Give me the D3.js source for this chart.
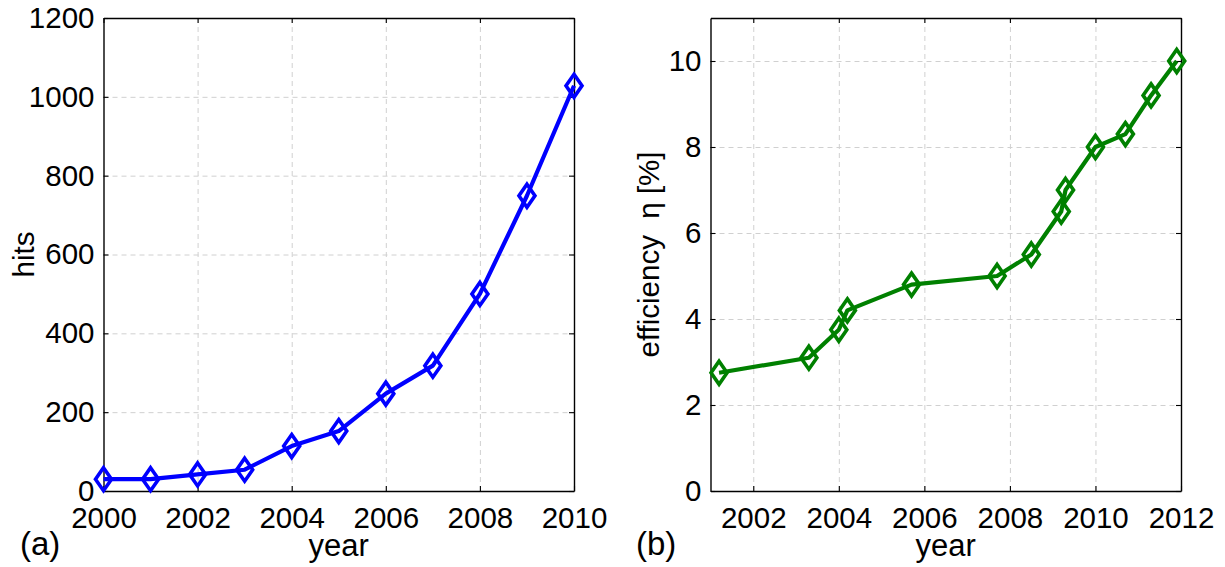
<!DOCTYPE html>
<html>
<head>
<meta charset="utf-8">
<script src="https://cdn.jsdelivr.net/npm/d3@7"></script>
<style>
  body { margin: 0; background: #fff; }
  svg text { font-family: "Liberation Sans", Arial, Helvetica, sans-serif; fill: #000; }
  .grid line { stroke: #d0d0d0; stroke-width: 1; stroke-dasharray: 5,4; }
  .grid .domain { display: none; }
  .axis .domain { stroke: #000; stroke-width: 1.4; }
  .axis line { stroke: #000; stroke-width: 1.1; }
</style>
</head>
<body>
<div class="graphic"></div>
<script>
// panel (a): hits per year
var hitsYears = [2000, 2001, 2002, 2003, 2004, 2005, 2006, 2007, 2008, 2009, 2010];
var hitsValues = [30, 30, 42, 54, 114, 152, 247, 318, 500, 749, 1028];
var hitsXTicks = [2000, 2002, 2004, 2006, 2008, 2010];
var hitsYTicks = [0, 200, 400, 600, 800, 1000, 1200];

// panel (b): efficiency
var effYears = [2001.2, 2003.3, 2004.0, 2004.2, 2005.7, 2007.7, 2008.5, 2009.2, 2009.3, 2010.0, 2010.7, 2011.3, 2011.9];
var effValues = [2.75, 3.1, 3.75, 4.2, 4.8, 5.0, 5.5, 6.5, 7.0, 8.0, 8.3, 9.2, 10.0];
var effXTicks = [2002, 2004, 2006, 2008, 2010, 2012];
var effYTicks = [0, 2, 4, 6, 8, 10];

var width = 1225, height = 567;

var svg = d3.select(".graphic").append("svg")
  .attr("width", width)
  .attr("height", height);

function diamond(cx, cy) {
  var hw = 8, hh = 11.5;
  return "M" + cx + "," + (cy - hh) + "L" + (cx + hw) + "," + cy +
    "L" + cx + "," + (cy + hh) + "L" + (cx - hw) + "," + cy + "Z";
}

function drawPanel(opts) {
  var w = opts.right - opts.left, h = opts.bottom - opts.top;
  var x = d3.scaleLinear().domain(opts.xDomain).range([0, w]);
  var y = d3.scaleLinear().domain(opts.yDomain).range([h, 0]);

  var g = svg.append("g").attr("transform", "translate(" + opts.left + "," + opts.top + ")");

  // dashed grid
  var gx = opts.xTicks.filter(function(d) { return d > opts.xDomain[0] && d < opts.xDomain[1]; });
  var gy = opts.yTicks.filter(function(d) { return d > opts.yDomain[0] && d < opts.yDomain[1]; });
  g.append("g").attr("class", "grid")
    .attr("transform", "translate(0," + h + ")")
    .call(d3.axisBottom(x).tickValues(gx).tickSize(-h).tickFormat(""));
  g.append("g").attr("class", "grid")
    .call(d3.axisLeft(y).tickValues(gy).tickSize(-w).tickFormat(""));

  // box with inward ticks
  var bottomAxis = g.append("g").attr("class", "axis")
    .attr("transform", "translate(0," + h + ")")
    .call(d3.axisBottom(x).tickValues(opts.xTicks).tickSize(-5).tickSizeOuter(0).tickPadding(16).tickFormat(d3.format("d")));
  bottomAxis.selectAll("text").attr("font-size", 29.5);

  var leftAxis = g.append("g").attr("class", "axis")
    .call(d3.axisLeft(y).tickValues(opts.yTicks).tickSize(-5).tickSizeOuter(0).tickPadding(9).tickFormat(d3.format("d")));
  leftAxis.selectAll("text").attr("font-size", 29.5);

  g.append("g").attr("class", "axis")
    .call(d3.axisTop(x).tickValues(opts.xTicks).tickSize(-5).tickSizeOuter(0).tickFormat(""));
  g.append("g").attr("class", "axis")
    .attr("transform", "translate(" + w + ",0)")
    .call(d3.axisRight(y).tickValues(opts.yTicks).tickSize(-5).tickSizeOuter(0).tickFormat(""));

  // data
  var pts = opts.xs.map(function(d, i) { return [d, opts.ys[i]]; });
  var line = d3.line().x(function(d) { return x(d[0]); }).y(function(d) { return y(d[1]); });
  g.append("path")
    .datum(pts)
    .attr("d", line)
    .attr("fill", "none")
    .attr("stroke", opts.color)
    .attr("stroke-width", 4.2)
    .attr("stroke-linejoin", "round");

  g.selectAll(".marker")
    .data(pts)
    .enter()
    .append("path")
    .attr("class", "marker")
    .attr("d", function(d) { return diamond(x(d[0]), y(d[1])); })
    .attr("fill", "none")
    .attr("stroke", opts.color)
    .attr("stroke-width", 3.6);

  // labels
  svg.append("text")
    .attr("x", (opts.left + opts.right) / 2)
    .attr("y", 556)
    .attr("text-anchor", "middle")
    .attr("font-size", 31)
    .text("year");

  svg.append("text")
    .attr("transform", "translate(" + opts.yLabelX + "," + (opts.top + h / 2) + ") rotate(-90)")
    .attr("text-anchor", "middle")
    .attr("font-size", 29.5)
    .style("white-space", "pre")
    .text(opts.yLabel);

  svg.append("text")
    .attr("x", opts.tagX)
    .attr("y", 555)
    .attr("font-size", 33)
    .text(opts.tag);
}

drawPanel({
  left: 103.5, right: 574, top: 18, bottom: 491,
  xDomain: [2000, 2010], yDomain: [0, 1200],
  xTicks: hitsXTicks, yTicks: hitsYTicks,
  xs: hitsYears, ys: hitsValues,
  color: "#0000ff",
  yLabel: "hits", yLabelX: 34,
  tag: "(a)", tagX: 20
});

drawPanel({
  left: 710.5, right: 1181, top: 18, bottom: 491,
  xDomain: [2001, 2012], yDomain: [0, 11],
  xTicks: effXTicks, yTicks: effYTicks,
  xs: effYears, ys: effValues,
  color: "#008000",
  yLabel: "efficiency  \u03b7 [%]", yLabelX: 659,
  tag: "(b)", tagX: 636
});
</script>
</body>
</html>
